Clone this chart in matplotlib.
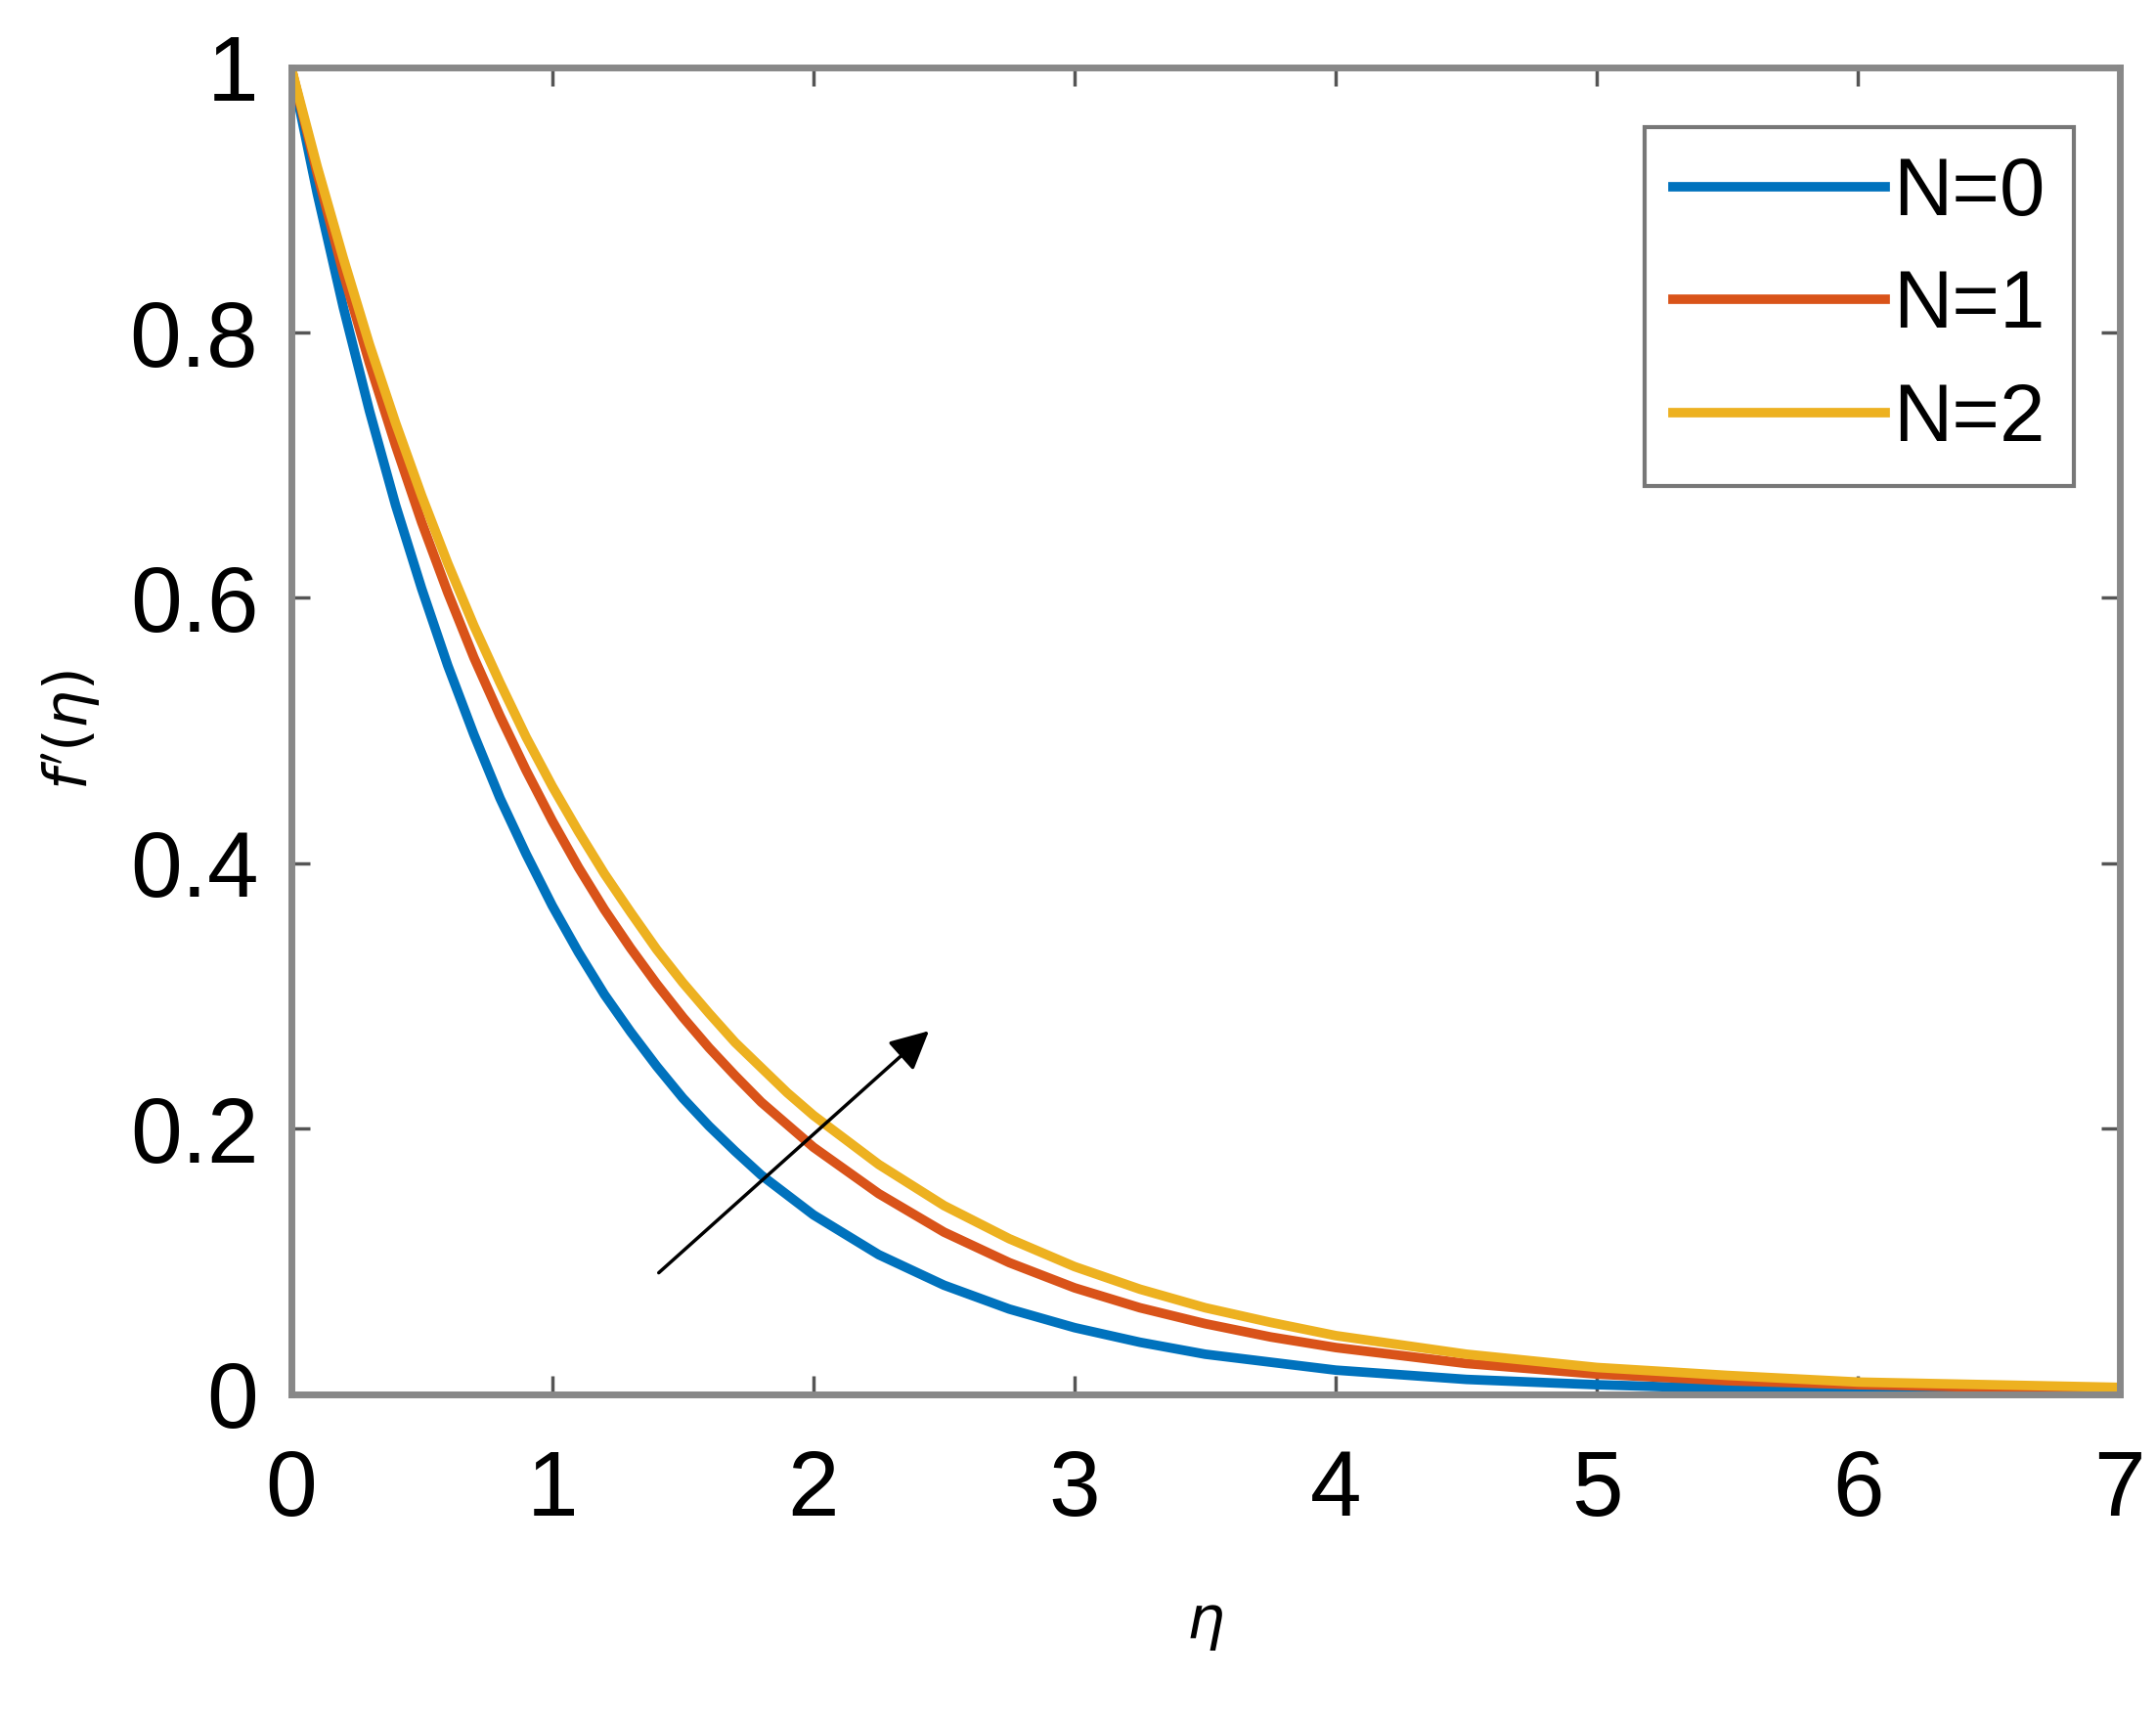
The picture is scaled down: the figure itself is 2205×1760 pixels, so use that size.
import matplotlib
matplotlib.use('Agg')
import matplotlib.pyplot as plt

eta = [0, 0.1, 0.2, 0.3, 0.4, 0.5, 0.6, 0.7, 0.8, 0.9, 1.0, 1.1, 1.2, 1.3, 1.4, 1.5, 1.6, 1.7, 1.8, 1.9, 2.0,
       2.25, 2.5, 2.75, 3.0, 3.25, 3.5, 3.75, 4.0, 4.5, 5.0, 5.5, 6.0, 6.5, 7.0]
f_n0 = [1, .905, .819, .741, .670, .607, .549, .497, .449, .407, .368, .333, .301, .273, .247, .223, .202, .183, .165, .150, .135,
        .105, .082, .064, .050, .039, .030, .024, .018, .011, .007, .004, .003, .002, .001]
f_n1 = [1, .920, .845, .777, .715, .657, .604, .555, .511, .470, .432, .397, .365, .336, .309, .284, .261, .240, .220, .203, .186,
        .151, .122, .099, .080, .065, .053, .043, .035, .023, .015, .010, .007, .005, .004]
f_n2 = [1, .925, .856, .791, .732, .677, .626, .579, .536, .495, .458, .424, .392, .363, .335, .310, .287, .265, .246, .227, .210,
        .173, .142, .117, .096, .079, .065, .054, .044, .030, .020, .014, .009, .007, .005]
labels = ['N=0', 'N=1', 'N=2']
colors = ['#0072BD', '#D95319', '#EDB120']

plt.rcParams['font.family'] = ['Liberation Sans', 'DejaVu Sans']
fig = plt.figure(figsize=(22.05, 17.6), dpi=100)
ax = fig.add_axes([0.135, 0.19, 0.848, 0.771])

for ys, lab, c in zip([f_n0, f_n1, f_n2], labels, colors):
  ax.plot(eta, ys, color=c, lw=7, label=lab)

ax.set_xlim(0, 7)
ax.set_ylim(0, 1)
ax.set_xticks(range(8))
ax.set_yticks([0, 0.2, 0.4, 0.6, 0.8, 1])
ax.set_yticklabels(['0', '0.2', '0.4', '0.6', '0.8', '1'])
ax.tick_params(direction='in', length=14, width=2.5, color='#555555', labelsize=68,
               top=True, right=True, pad=24)
ax.tick_params(axis='x', pad=40)
for s in ax.spines.values():
  s.set_color('#888888')
  s.set_linewidth(5)

ax.set_xlabel(r'$\eta$', fontsize=44, labelpad=45)
ax.set_ylabel(r"$f'(\eta)$", fontsize=44, labelpad=20)

ax.annotate('', xy=(2.45, 0.275), xytext=(1.4, 0.09),
            arrowprops=dict(arrowstyle='-|>', color='black', lw=2.5, mutation_scale=60))

leg = ax.legend(loc='upper right', fontsize=60, fancybox=False, handlelength=2.6,
                handletextpad=0.1, borderpad=0.35, labelspacing=0.45, borderaxespad=0,
                bbox_to_anchor=(0.975, 0.955))
leg.get_frame().set_edgecolor('#555555')
leg.get_frame().set_linewidth(3)

fig.savefig('out.png', dpi=100, facecolor='white')
